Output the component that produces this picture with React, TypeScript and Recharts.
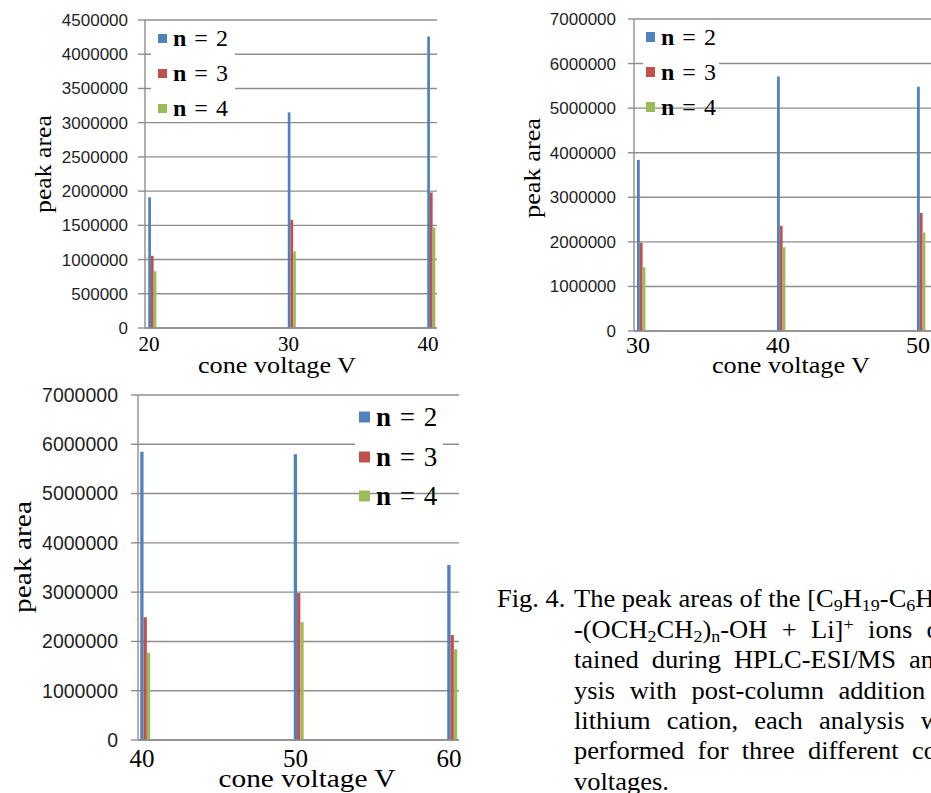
import React from "react";
import { BarChart, Bar, XAxis, YAxis, CartesianGrid, Legend } from "recharts";

const BLUE = "#4F81BD";
const RED = "#C0504D";
const GREEN = "#9BBB59";
const GRID = "#8E8E8E";
const SERIF = '"Liberation Serif", "Times New Roman", serif';
const SANS = '"Liberation Sans", Arial, sans-serif';

const seriesNames = ["n = 2", "n = 3", "n = 4"];

// top-left panel
const voltagesA = [20, 30, 40];
const n2A = [1910000, 3150000, 4260000];
const n3A = [1055000, 1580000, 1980000];
const n4A = [830000, 1120000, 1470000];
const yTicksA = [0, 500000, 1000000, 1500000, 2000000, 2500000, 3000000, 3500000, 4000000, 4500000];

// top-right panel
const voltagesB = [30, 40, 50];
const n2B = [3840000, 5710000, 5480000];
const n3B = [1980000, 2360000, 2650000];
const n4B = [1430000, 1880000, 2210000];
const yTicksB = [0, 1000000, 2000000, 3000000, 4000000, 5000000, 6000000, 7000000];

// bottom-left panel
const voltagesC = [40, 50, 60];
const n2C = [5850000, 5800000, 3550000];
const n3C = [2490000, 2980000, 2130000];
const n4C = [1770000, 2390000, 1840000];
const yTicksC = [0, 1000000, 2000000, 3000000, 4000000, 5000000, 6000000, 7000000];

type Txt = { x: number; y: number; size: number; len: number };
type Lg = {
  x: number; y: number; w: number; h: number; rows: number[];
  padL: number; sq: number; sqH: number; gap: number; font: number; spacing: number;
};
type PanelProps = {
  left: number; top: number; width: number; height: number;
  margin: { top: number; right: number; bottom: number; left: number };
  yWidth: number; tickSize: number; tickMargin: number; tickFont: number;
  padL: number; padR: number; barSize: number;
  xs: number[]; s2: number[]; s3: number[]; s4: number[]; yTicks: number[];
  xFont: number; xTickMargin: number;
  yLabel: Txt; xLabel: Txt; legend: Lg;
};

const renderLegend = (lg: Lg) => (props: any) => {
  const payload = props.payload || [];
  return (
    <div style={{ position: "relative", width: lg.w, height: lg.h, background: "#fff" }}>
      {payload.map((e: any, i: number) => (
        <div
          key={String(e.value)}
          style={{
            position: "absolute", left: lg.padL, top: lg.rows[i], transform: "translateY(-50%)",
            display: "flex", alignItems: "center", whiteSpace: "nowrap", fontFamily: SERIF,
            fontSize: lg.font, letterSpacing: lg.spacing, color: "#000", lineHeight: 1,
          }}
        >
          <span style={{ display: "inline-block", width: lg.sq, height: lg.sqH, background: e.color, marginRight: lg.gap }} />
          <span><b>n</b>{String(e.value).slice(1)}</span>
        </div>
      ))}
    </div>
  );
};

const xTick = (font: number) => (p: any) => (
  <text x={p.x - 3} y={p.y} dy="0.71em" textAnchor="middle" fontFamily={SERIF} fontSize={font} fill="#000">
    {p.payload.value}
  </text>
);

const Panel = (p: PanelProps) => {
  const data = p.xs.map((v, i) => ({ v, n2: p.s2[i], n3: p.s3[i], n4: p.s4[i] }));
  const yl = p.yLabel;
  const xl = p.xLabel;
  return (
    <div style={{ position: "absolute", left: p.left, top: p.top }}>
      <BarChart width={p.width} height={p.height} data={data} margin={p.margin} barGap={0}>
        <CartesianGrid vertical={false} stroke={GRID} strokeWidth={1.4} />
        <XAxis
          dataKey="v"
          type="number"
          domain={[p.xs[0], p.xs[p.xs.length - 1]]}
          ticks={p.xs}
          interval={0}
          padding={{ left: p.padL, right: p.padR }}
          axisLine={{ stroke: GRID, strokeWidth: 1.4 }}
          tickLine={false}
          tickSize={0}
          tickMargin={p.xTickMargin}
          height={30}
          tick={xTick(p.xFont)}
          label={() => (
            <text x={xl.x - xl.len / 2} y={xl.y} fontFamily={SERIF} fontSize={xl.size} textLength={xl.len} lengthAdjust="spacingAndGlyphs" fill="#000">
              cone voltage V
            </text>
          )}
        />
        <YAxis
          type="number"
          domain={[0, p.yTicks[p.yTicks.length - 1]]}
          ticks={p.yTicks}
          interval={0}
          width={p.yWidth}
          axisLine={{ stroke: GRID, strokeWidth: 1.4 }}
          tickLine={{ stroke: GRID, strokeWidth: 1.4 }}
          tickSize={p.tickSize}
          tickMargin={p.tickMargin}
          tick={{ fill: "#1f1f1f", fontSize: p.tickFont, fontFamily: SANS }}
          label={() => (
            <text
              x={yl.x - yl.len / 2}
              y={yl.y}
              transform={`rotate(-90 ${yl.x} ${yl.y})`}
              dominantBaseline="central"
              fontFamily={SERIF}
              fontSize={yl.size}
              textLength={yl.len}
              lengthAdjust="spacingAndGlyphs"
              fill="#000"
            >
              peak area
            </text>
          )}
        />
        <Legend
          layout="vertical"
          align="center"
          verticalAlign="middle"
          content={renderLegend(p.legend)}
          wrapperStyle={{ left: p.legend.x, top: p.legend.y, width: p.legend.w, height: p.legend.h }}
        />
        <Bar dataKey="n2" name={seriesNames[0]} fill={BLUE} barSize={p.barSize} isAnimationActive={false} />
        <Bar dataKey="n3" name={seriesNames[1]} fill={RED} barSize={p.barSize} isAnimationActive={false} />
        <Bar dataKey="n4" name={seriesNames[2]} fill={GREEN} barSize={p.barSize} isAnimationActive={false} />
      </BarChart>
    </div>
  );
};

const lineStyle: React.CSSProperties = {
  marginLeft: 72.6,
  width: 366,
  textAlign: "justify",
  textAlignLast: "justify",
  whiteSpace: "nowrap",
};
const sub: React.CSSProperties = { fontSize: "0.68em", lineHeight: 0, verticalAlign: "-0.25em" };
const sup: React.CSSProperties = { fontSize: "0.68em", lineHeight: 0, verticalAlign: "0.45em" };

const Caption = () => (
  <div
    style={{
      position: "absolute", left: 497, top: 584.4, fontFamily: SERIF, fontSize: 25, lineHeight: "30.4px",
      color: "#000", transform: "scaleX(1.06)", transformOrigin: "0 0",
    }}
  >
    <div style={{ position: "absolute", left: 0, top: 0, whiteSpace: "nowrap" }}>Fig. 4.</div>
    <div style={{ marginLeft: 72.6, whiteSpace: "nowrap" }}>
      The peak areas of the [C<span style={sub}>9</span>H<span style={sub}>19</span>-C<span style={sub}>6</span>H<span style={sub}>4</span>
    </div>
    <div style={lineStyle}>
      -(OCH<span style={sub}>2</span>CH<span style={sub}>2</span>)<span style={sub}>n</span>-OH + Li]<span style={sup}>+</span> ions ob-
    </div>
    <div style={lineStyle}>tained during HPLC-ESI/MS anal-</div>
    <div style={lineStyle}>ysis with post-column addition of</div>
    <div style={lineStyle}>lithium cation, each analysis was</div>
    <div style={lineStyle}>performed for three different cone</div>
    <div style={{ marginLeft: 72.6, whiteSpace: "nowrap" }}>voltages.</div>
  </div>
);

export default function App() {
  return (
    <div style={{ position: "absolute", left: 0, top: 0, width: 931, height: 793, overflow: "hidden", background: "#fff" }}>
      <Panel
        left={0} top={0} width={460} height={390}
        margin={{ top: 20, right: 23, bottom: 32, left: 0 }}
        yWidth={145} tickSize={7} tickMargin={10} tickFont={17}
        padL={7} padR={6} barSize={2.7}
        xs={voltagesA} s2={n2A} s3={n3A} s4={n4A} yTicks={yTicksA}
        xFont={21} xTickMargin={8}
        yLabel={{ x: 43, y: 164, size: 23, len: 98 }}
        xLabel={{ x: 277, y: 373, size: 23, len: 158 }}
        legend={{ x: 151, y: 22, w: 84, h: 98, rows: [16.3, 51.3, 86.3], padL: 7, sq: 9, sqH: 9, gap: 6, font: 24, spacing: 1 }}
      />
      <Panel
        left={490} top={0} width={441} height={390}
        margin={{ top: 19, right: 0, bottom: 29, left: 0 }}
        yWidth={144} tickSize={6} tickMargin={12} tickFont={17}
        padL={7} padR={10} barSize={2.8}
        xs={voltagesB} s2={n2B} s3={n3B} s4={n4B} yTicks={yTicksB}
        xFont={24} xTickMargin={5}
        yLabel={{ x: 42, y: 168, size: 23, len: 100 }}
        xLabel={{ x: 301, y: 373, size: 23, len: 158 }}
        legend={{ x: 153, y: 22, w: 76, h: 78, rows: [15, 50, 85], padL: 3, sq: 9, sqH: 10.5, gap: 6, font: 24, spacing: 1 }}
      />
      <Panel
        left={0} top={380} width={480} height={413}
        margin={{ top: 15, right: 21, bottom: 23, left: 0 }}
        yWidth={138} tickSize={7} tickMargin={13} tickFont={19.5}
        padL={7} padR={7} barSize={3.3}
        xs={voltagesC} s2={n2C} s3={n3C} s4={n4C} yTicks={yTicksC}
        xFont={25} xTickMargin={9}
        yLabel={{ x: 22, y: 177, size: 26, len: 112 }}
        xLabel={{ x: 307, y: 407, size: 26, len: 177 }}
        legend={{ x: 355, y: 20, w: 88, h: 80, rows: [16.7, 56.7, 96], padL: 4, sq: 11, sqH: 11, gap: 6, font: 27, spacing: 1 }}
      />
      <Caption />
    </div>
  );
}
